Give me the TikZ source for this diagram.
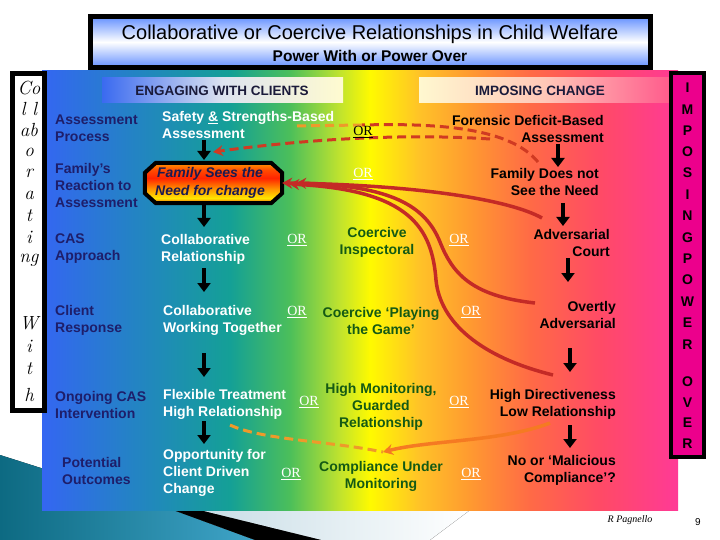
\documentclass[tikz,border=0pt]{standalone}
\usepackage{fontspec}
\setsansfont{Liberation Sans}
\newfontfamily\orfont{Liberation Serif}
\usetikzlibrary{arrows.meta,calc}
\definecolor{c0}{HTML}{3466F2}
\definecolor{c1}{HTML}{2482C6}
\definecolor{c2}{HTML}{14A096}
\definecolor{c3}{HTML}{4CBF5A}
\definecolor{c4}{HTML}{C0E32E}
\definecolor{c5}{HTML}{FFFA00}
\definecolor{c6}{HTML}{FFC228}
\definecolor{c7}{HTML}{FF9A30}
\definecolor{c8}{HTML}{FF6A46}
\definecolor{c9}{HTML}{FF4A66}
\definecolor{c10}{HTML}{FF3A96}
\definecolor{o1}{HTML}{E83A10}
\definecolor{o2}{HTML}{FFE800}
\definecolor{o3}{HTML}{FF9A00}
\definecolor{o4}{HTML}{FF2400}
\definecolor{o5}{HTML}{FF4A00}
\definecolor{o6}{HTML}{FF9800}
\definecolor{navy}{HTML}{1E1E6A}
\definecolor{octtext}{HTML}{1C1A50}
\definecolor{dgreen}{HTML}{145A14}
\definecolor{dred}{HTML}{C42A26}
\definecolor{dashred}{HTML}{D03A22}
\definecolor{dashorange}{HTML}{EE9A2A}
\definecolor{solorange}{HTML}{F57A22}
\definecolor{tblue}{HTML}{6490FF}
\definecolor{teal1}{HTML}{0D6A82}
\definecolor{teal2}{HTML}{3FA4C8}
\definecolor{pale1}{HTML}{C8DDE6}
\definecolor{hdrblue}{HTML}{3A6AF0}
\definecolor{hdrmid}{HTML}{DDE3F0}
\definecolor{hdryel}{HTML}{FFFBD0}
\definecolor{imppale}{HTML}{FFF8D0}
\definecolor{impmid}{HTML}{FFC8B8}
\definecolor{imppink}{HTML}{FF5C8C}
\definecolor{hdrtext}{HTML}{1A1A3A}
\pgfdeclarehorizontalshading{mainshade}{100bp}{color(0bp)=(c0); color(25bp)=(c0); color(31.9bp)=(c1); color(39.8bp)=(c2); color(44.5bp)=(c3); color(48.4bp)=(c4); color(50.8bp)=(c5); color(54.7bp)=(c6); color(58.6bp)=(c7); color(63.4bp)=(c8); color(68.9bp)=(c9); color(75bp)=(c10); color(100bp)=(c10)}
\pgfdeclareverticalshading{octshade}{100bp}{color(0bp)=(o1); color(25bp)=(o1); color(31bp)=(o2); color(42bp)=(o3); color(56bp)=(o4); color(66bp)=(o5); color(75bp)=(o6); color(100bp)=(o6)}
\begin{document}
\begin{tikzpicture}[x=1pt,y=-1pt,
  lbl/.style={font=\fontsize{14}{17}\selectfont\sffamily\bfseries, align=left, inner sep=0pt, anchor=west, text=navy},
  wht/.style={lbl, text=white},
  grn/.style={font=\fontsize{14}{17}\selectfont\sffamily\bfseries, align=center, inner sep=0pt, text=dgreen},
  rgt/.style={font=\fontsize{14}{17}\selectfont\sffamily\bfseries, align=right, inner sep=0pt, anchor=east, text=black},
  orl/.style={font=\fontsize{14}{16}\selectfont\orfont, inner sep=0pt, text=white},
  hw/.style={font=\fontsize{19}{19}\selectfont\rmfamily\itshape, inner sep=0pt},
  imp/.style={font=\fontsize{14}{14}\selectfont\sffamily\bfseries, inner sep=0pt},
  hdr/.style={font=\fontsize{13.5}{14}\selectfont\sffamily\bfseries, text=hdrtext, inner sep=0pt},
  blk/.style={line width=4pt, -{Triangle[width=13pt,length=9pt]}},
  redcurve/.style={dred, line width=3.5pt, -{Stealth[length=10pt,width=11pt]}},
  reddash/.style={dashred, line width=3pt, dash pattern=on 9pt off 5pt},
  orgdash/.style={dashorange, line width=3pt, dash pattern=on 9pt off 5pt}
]
\useasboundingbox (0,0) rectangle (720,540);
\fill[white] (0,0) rectangle (720,540);
% bottom-left decoration
\fill[left color=teal1,right color=teal2] (0,455) -- (173,510) -- (255,540) -- (0,540) -- cycle;
\fill[black] (173,510) -- (200,510) -- (322,540) -- (255,540) -- cycle;
\fill[left color=pale1,right color=white] (200,510) -- (470,510) -- (430,540) -- (322,540) -- cycle;
% main gradient panel
\shade[shading=mainshade] (42,71) rectangle (678,510);
% title box
\node[draw, line width=5pt, top color=tblue, bottom color=tblue, middle color=white, minimum width=560, minimum height=51, inner sep=0] (titlebox) at (370.5,42) {};
\node[font=\fontsize{20}{20}\selectfont\sffamily, inner sep=0] (title) at (370,34) {Collaborative or Coercive Relationships in Child Welfare};
\node[font=\fontsize{15.5}{16}\selectfont\sffamily\bfseries, inner sep=0] (subtitle) at (370,56) {Power With or Power Over};
% headers
\node[hdr, left color=hdrblue, right color=hdryel, middle color=hdrmid, minimum width=241, minimum height=25] (hdrL) at (222.5,90.5) {};
\node[hdr] (hdrLt) at (222,91) {ENGAGING WITH CLIENTS};
\node[hdr, left color=imppale, right color=imppink, middle color=impmid, minimum width=250, minimum height=25] (hdrR) at (544,90.5) {};
\node[hdr] (hdrRt) at (540,91) {IMPOSING CHANGE};
% side boxes
\node[draw, line width=5pt, fill=white, minimum width=32, minimum height=337, inner sep=0] (colbox) at (28.5,242) {};
\node[draw, line width=4pt, fill=magenta, minimum width=33, minimum height=384, inner sep=0] (impbox) at (687.5,265) {};
\foreach \t/\y [count=\i] in {Co/88, l l/109, ab/130, o/152, r/173, a/195, t/216, i/237, ng/260, W/323, i/346, t/369, h/395}
  \node[hw] (hw\i) at (29,\y) {\t};
\foreach \t/\y [count=\i] in {I/88, M/109.5, P/131, O/152, S/173, I/194.5, N/216, G/237.5, P/259, O/280, W/301.5, E/323, R/345, O/382, V/402.5, E/423, R/443.5}
  \node[imp] (im\i) at (687.5,\y) {\t};
% curves
\coordinate (conA) at (538,162);
\coordinate (midA) at (362,125);
\coordinate (endA) at (293,126);
\coordinate (conB) at (490,139);
\coordinate (endB) at (213,152);
\coordinate (conC) at (542,218);
\coordinate (conD) at (535,303);
\coordinate (conE) at (553,375);
\coordinate (conF) at (550,423);
\coordinate (conG) at (230,425);
\coordinate (endF) at (383,452);
\draw[reddash] (conA) .. controls (510,128) and (440,123) .. (midA);
\draw[orgdash] (midA) -- (endA);
\draw[reddash, -{Stealth[length=10pt,width=11pt]}] (conB) .. controls (400,133) and (300,140) .. (endB);
% octagon
\node[minimum width=137, minimum height=40, inner sep=0] (oct) at (213.5,183) {};
\draw[line width=4pt, line join=miter, shade, shading=octshade]
  ($(oct.north west)+(11,0)$) -- ($(oct.north east)+(-11,0)$) -- ($(oct.north east)+(0,10)$)
  -- ($(oct.south east)+(0,-10)$) -- ($(oct.south east)+(-11,0)$) -- ($(oct.south west)+(11,0)$)
  -- ($(oct.south west)+(0,-10)$) -- ($(oct.north west)+(0,10)$) -- cycle;
\node[font=\fontsize{14}{18}\selectfont\sffamily\bfseries\itshape, text=octtext, align=center, inner sep=0] (octlbl) at (210,183) {Family Sees the\\Need for change};
\draw[redcurve] (conC) .. controls (510,200) and (420,185) .. (oct.east);
\draw[redcurve] (conD) .. controls (470,296) and (452,272) .. (440,242) .. controls (425,205) and (390,186) .. ($(oct.east)+(14,0)$);
\draw[redcurve] (conE) .. controls (480,357) and (440,322) .. (436,280) .. controls (432,228) and (410,190) .. ($(oct.east)+(7,1)$);
\draw[orgdash] (conG) .. controls (262,440) and (330,441) .. (endF);
\draw[solorange, line width=3.5pt, -{Stealth[length=10pt,width=11pt]}] (conF) .. controls (500,442) and (430,440) .. (endF);
% black arrows
\foreach \n/\x/\ya/\yb in {1/204/140/160, 2/204/205/227, 3/204/268/292, 4/204/353/377, 5/204/421/444, 6/558/144/167, 7/563/203/226, 8/568/258/282, 9/570/348/372, 10/570/425/448} {
  \coordinate (as\n) at (\x,\ya);
  \coordinate (ae\n) at (\x,\yb);
  \draw[blk] (as\n) -- (ae\n);
}
% left labels
\node[lbl] (lAP) at (55,128.5) {Assessment\\Process};
\node[lbl] (lFR) at (55,185) {Family’s\\Reaction to\\Assessment};
\node[lbl] (lCA) at (55,249) {CAS\\Approach};
\node[lbl] (lCR) at (55,320.5) {Client\\Response};
\node[lbl] (lOI) at (55,404.5) {Ongoing CAS\\Intervention};
\node[lbl] (lPO) at (62,470.5) {Potential\\Outcomes};
% white column
\node[wht] (wSS) at (162,125) {Safety \underline{\&} Strengths-Based\\Assessment};
\node[wht] (wCR) at (161,249) {Collaborative\\Relationship};
\node[wht] (wCW) at (163,320.5) {Collaborative\\Working Together};
\node[wht] (wFT) at (163,404.5) {Flexible Treatment\\High Relationship};
\node[wht] (wOC) at (163,473) {Opportunity for\\Client Driven\\Change};
% green column
\node[grn] (gCI) at (377,242.5) {Coercive\\Inspectoral};
\node[grn] (gPG) at (381,320.5) {Coercive ‘Playing\\the Game’};
\node[grn] (gHM) at (381,407) {High Monitoring,\\Guarded\\Relationship};
\node[grn] (gCU) at (381,476.5) {Compliance Under\\Monitoring};
% right column
\node[rgt] (rFD) at (604,128.5) {Forensic Deficit-Based\\Assessment};
\node[rgt] (rFN) at (599,182) {Family Does not\\See the Need};
\node[rgt] (rAC) at (610,242.5) {Adversarial\\Court};
\node[rgt] (rOA) at (616,314.5) {Overtly\\Adversarial};
\node[rgt] (rHD) at (616,404.5) {High Directiveness\\Low Relationship};
\node[rgt] (rNM) at (616,470.5) {No or ‘Malicious\\Compliance’?};
% OR labels
\node[orl, text=black] (or1) at (363,132) {\underline{OR}};
\node[orl] (or2) at (363,174) {\underline{OR}};
\node[orl] (or3) at (297,240) {\underline{OR}};
\node[orl] (or4) at (459,240) {\underline{OR}};
\node[orl] (or5) at (297,312) {\underline{OR}};
\node[orl] (or6) at (471,312) {\underline{OR}};
\node[orl] (or7) at (309,402) {\underline{OR}};
\node[orl] (or8) at (459,402) {\underline{OR}};
\node[orl] (or9) at (291,474) {\underline{OR}};
\node[orl] (or10) at (471,474) {\underline{OR}};
% footer
\node[font=\fontsize{10}{10}\selectfont\orfont\itshape, inner sep=0] (author) at (630,520) {R Pagnello};
\node[font=\fontsize{10}{10}\selectfont\sffamily, inner sep=0] (pagenum) at (698,522) {9};
\end{tikzpicture}
\end{document}
